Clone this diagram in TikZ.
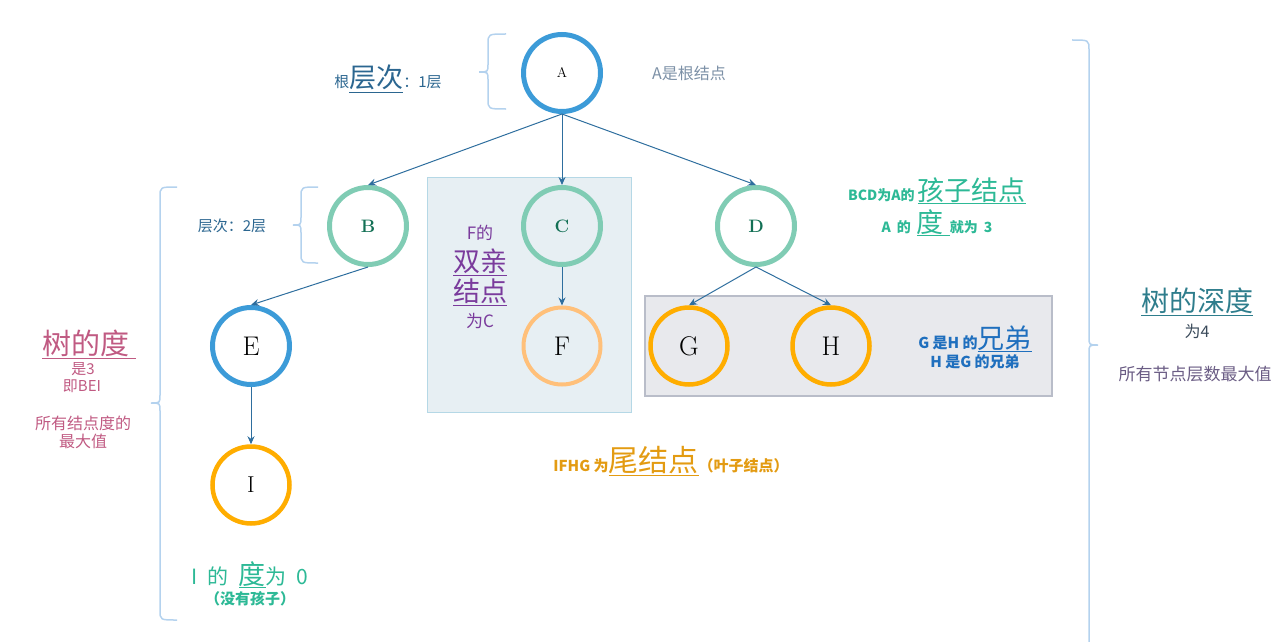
\documentclass[tikz,border=0pt]{standalone}
\usepackage{fontspec}
\newfontfamily\cjk{Noto Sans CJK SC}
\usetikzlibrary{arrows.meta}
\definecolor{nblue}{HTML}{3C9BD8}
\definecolor{ngreen}{HTML}{80CCB4}
\definecolor{nlorange}{HTML}{FFC07A}
\definecolor{norange}{HTML}{FFAD00}
\definecolor{edgec}{HTML}{2E6E9E}
\definecolor{bracec}{HTML}{B4D2EE}
\definecolor{tlevel}{HTML}{2B6690}
\definecolor{tgray}{HTML}{7C90A6}
\definecolor{tgreen}{HTML}{2DB996}
\definecolor{tteal}{HTML}{2E7D8C}
\definecolor{tdark}{HTML}{3A4A5A}
\definecolor{tviolet}{HTML}{6A5C84}
\definecolor{tpink}{HTML}{C05A82}
\definecolor{tpurple}{HTML}{7A3B9C}
\definecolor{tblue}{HTML}{1F6FBE}
\definecolor{torange}{HTML}{E39B12}
\definecolor{tdgreen}{HTML}{137055}
\definecolor{boxonefill}{HTML}{E7EFF3}
\definecolor{boxonedraw}{HTML}{B5D8E6}
\definecolor{boxtwofill}{HTML}{E8E9ED}
\definecolor{boxtwodraw}{HTML}{B9BDC9}
\newcommand{\fsz}[1]{\fontsize{#1}{#1}\selectfont}
\tikzset{
  tnode/.style={circle, minimum size=77pt, inner sep=0pt, line width=5pt, font=\fsz{27}},
  arr/.style={draw=edgec, line width=1pt, -{Stealth[length=8pt,width=7pt]}},
  brc/.style={draw=bracec, line width=1.5pt},
  lbl/.style={inner sep=0pt, font=\cjk},
}
\begin{document}
\begin{tikzpicture}[x=1pt,y=-1pt]
\useasboundingbox (0,0) rectangle (1288,642);
% boxes
\node[draw=boxonedraw, fill=boxonefill, line width=1.5pt, minimum width=204pt, minimum height=235pt, inner sep=0pt] (boxCF) at (529.5,295) {};
\node[draw=boxtwodraw, fill=boxtwofill, line width=2pt, minimum width=407pt, minimum height=100pt, inner sep=0pt] (boxGH) at (848,345.5) {};
% nodes
\node[tnode, draw=nblue, font=\fsz{14}] (A) at (562,73) {A};
\node[tnode, draw=ngreen, text=tdgreen, font=\fsz{18}\bfseries] (B) at (368,226) {B};
\node[tnode, draw=ngreen, text=tdgreen, font=\fsz{18}\bfseries] (C) at (562,226) {C};
\node[tnode, draw=ngreen, text=tdgreen, font=\fsz{18}\bfseries] (D) at (756,226) {D};
\node[tnode, draw=nblue] (E) at (251,346) {E};
\node[tnode, draw=nlorange, line width=4pt] (F) at (562,346) {F};
\node[tnode, draw=norange, line width=4.5pt] (G) at (689,346) {G};
\node[tnode, draw=norange, line width=4.5pt] (H) at (831,346) {H};
\node[tnode, draw=norange, line width=4.5pt, font=\fsz{23}] (I) at (251,485) {I};
% edges
\draw[arr] (A.south) -- (B.north);
\draw[arr] (A.south) -- (C.north);
\draw[arr] (A.south) -- (D.north);
\draw[arr] (B.south) -- (E.north);
\draw[arr] (E.south) -- (I.north);
\draw[arr] (C.south) -- (F.north);
\draw[arr] (D.south) -- (G.north);
\draw[arr] (D.south) -- (H.north);
% braces
\draw[brc] (506,34) .. controls (488,34) .. (488,44) -- (488,64) .. controls (488,72) .. (479,72) .. controls (488,72) .. (488,80) -- (488,99) .. controls (488,109) .. (506,109);
\draw[brc] (318,187) .. controls (301,187) .. (301,197) -- (301,217) .. controls (301,225) .. (293,225) .. controls (301,225) .. (301,233) -- (301,253) .. controls (301,263) .. (318,263);
\draw[brc] (177,187) .. controls (160,187) .. (160,197) -- (160,395) .. controls (160,403) .. (151,403) .. controls (160,403) .. (160,411) -- (160,610) .. controls (160,620) .. (177,620);
\draw[brc] (1072,40) .. controls (1089,40) .. (1089,50) -- (1089,337) .. controls (1089,345) .. (1098,345) .. controls (1089,345) .. (1089,353) -- (1089,642);
% texts
\node[lbl, text=tlevel, anchor=base] (t1) at (388,88) {\fsz{15}根{\fsz{27}\underline{层次}}：1层};
\node[lbl, text=tgray, font=\cjk\fsz{16}] (t2) at (689,73) {A是根结点};
\node[lbl, text=tlevel, font=\cjk\fsz{15}] (t3) at (232,226) {层次：2层};
\node[lbl, text=tgreen, anchor=base] (t4) at (937,200) {\fsz{14}\bfseries BCD为A的 {\mdseries\fsz{27}\underline{孩子结点}}};
\node[lbl, text=tgreen, anchor=base] (t5) at (937,232) {\fsz{14}\bfseries A\hspace{6pt}的\hspace{6pt}{\mdseries\fsz{27}\underline{度\ }}就为\hspace{6pt}3};
\node[lbl, text=tteal, font=\cjk\fsz{28}] (t6) at (1197,302) {\underline{树的深度}};
\node[lbl, text=tdark, font=\cjk\fsz{16}] (t7) at (1197,331) {为4};
\node[lbl, text=tviolet, font=\cjk\fsz{17}] (t8) at (1195,374) {所有节点层数最大值};
\node[lbl, text=tpink, font=\cjk\fsz{29}] (t9) at (89,344) {\underline{树的度\ }};
\node[lbl, text=tpink, font=\cjk\fsz{15}] (t10) at (83,369) {是3};
\node[lbl, text=tpink, font=\cjk\fsz{15}] (t11) at (82,386) {即BEI};
\node[lbl, text=tpink, font=\cjk\fsz{16}] (t12) at (83,423) {所有结点度的};
\node[lbl, text=tpink, font=\cjk\fsz{16}] (t13) at (83,441) {最大值};
\node[lbl, text=tpurple, font=\cjk\fsz{17}] (t14) at (480,233) {F的};
\node[lbl, text=tpurple, font=\cjk\fsz{27}] (t15) at (480,262) {\underline{双亲}};
\node[lbl, text=tpurple, font=\cjk\fsz{27}] (t16) at (480,292) {\underline{结点}};
\node[lbl, text=tpurple, font=\cjk\fsz{17}] (t17) at (480,321) {为C};
\node[lbl, text=tblue, anchor=base] (t18) at (975,348) {\fsz{15}\bfseries G 是H 的{\mdseries\fsz{27}\underline{兄弟}}};
\node[lbl, text=tblue, font=\cjk\fsz{15}\bfseries] (t19) at (975,362) {H 是G 的兄弟};
\node[lbl, text=torange, anchor=base] (t20) at (671,471) {\fsz{15}\bfseries IFHG 为{\mdseries\fsz{30}\underline{尾结点}}（叶子结点）};
\node[lbl, text=tgreen, anchor=base] (t21) at (250,584) {\fsz{21}I\hspace{10pt}的\hspace{10pt}{\fsz{27}\underline{度}}为\hspace{10pt}0};
\node[lbl, text=tgreen, font=\cjk\fsz{15}\bfseries] (t22) at (250,599) {（没有孩子）};
\end{tikzpicture}
\end{document}
